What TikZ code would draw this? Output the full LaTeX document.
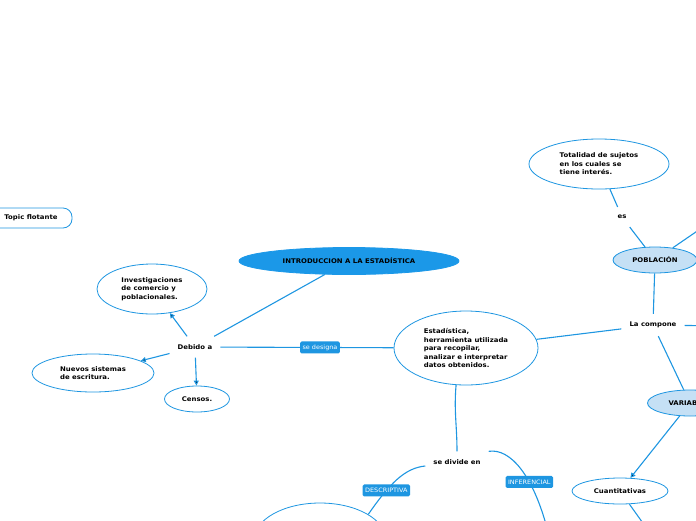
\documentclass[tikz,border=0pt]{standalone}
\usepackage{fontspec}
\setmainfont{DejaVu Sans}[FakeStretch=1.08]
\usetikzlibrary{arrows.meta, shapes.geometric, positioning}
\definecolor{mapblue}{RGB}{30,150,225}
\definecolor{mapdark}{RGB}{27,152,232}
\definecolor{maplight}{RGB}{197,224,245}

\begin{document}
\begin{tikzpicture}[x=1pt, y=-1pt,
    every node/.style={font=\fontsize{6.4}{8.5}\selectfont\bfseries, text=black},
    topic/.style={ellipse, draw=mapblue, line width=0.8pt, fill=white, inner sep=0pt, align=left},
    floatbox/.style={rectangle, rounded corners=9pt, draw=mapblue, line width=0.8pt, fill=white},
    word/.style={inner sep=8pt},
    tag/.style={rectangle, rounded corners=1.5pt, fill=mapblue, text=white, font=\fontsize{6}{7}\selectfont, inner sep=2.5pt, minimum height=12pt},
    link/.style={draw=mapblue, line width=1.1pt},
    arr/.style={-{Triangle[length=5pt, width=5pt]}}]
    \useasboundingbox (0,0) rectangle (696,520);
    \clip (0,0) rectangle (696,520);
    %
    \node [floatbox, minimum width=82pt, minimum height=20pt] (flot) at (31,218) {Topic flotante};
    \node [topic, fill=mapdark, draw=mapdark, minimum width=220pt, minimum height=27pt] (intro) at (349,261) {INTRODUCCION A LA ESTADÍSTICA};
    \node [word] (debido) at (195,347) {Debido a};
    \node [topic, minimum width=110pt, minimum height=50pt] (invest) at (152,289) {Investigaciones\\de comercio y\\poblacionales.};
    \node [topic, minimum width=122pt, minimum height=38pt] (nuevos) at (93,373) {Nuevos sistemas\\de escritura.};
    \node [topic, minimum width=65pt, minimum height=26pt] (censos) at (197,399) {Censos.};
    \node [topic, minimum width=144pt, minimum height=74pt] (estad) at (466,348) {Estadística,\\herramienta utilizada\\para recopilar,\\analizar e interpretar\\datos obtenidos.};
    \node [word] (compone) at (653,325) {La compone};
    \node [topic, fill=maplight, minimum width=84pt, minimum height=26pt] (pobla) at (655,260) {POBLACIÓN};
    \node [word] (es) at (622,217) {es};
    \node [topic, minimum width=140pt, minimum height=50pt] (total) at (599,164) {Totalidad de sujetos\\en los cuales se\\tiene interés.};
    \node [topic, fill=maplight, minimum width=85pt, minimum height=26pt] (vari) at (690,403) {VARIABLES};
    \node [topic, minimum width=96pt, minimum height=26pt] (cuanti) at (620,491) {Cuantitativas};
    \node [word] (divide) at (457,462) {se divide en};
    \node [topic, minimum width=132pt, minimum height=74pt] (descr) at (320,540) {};
    %
    \coordinate (poblaout) at (725,212);
    \coordinate (componeout) at (725,326);
    \coordinate (cuantiout) at (655,540);
    \coordinate (inferout) at (550,540);
    %
    \path [link] (intro) edge (debido);
    \path [link] (debido) edge[arr] (invest) edge[arr] (nuevos) edge[arr] (censos);
    \path [link] (debido) edge node[tag, pos=0.575] {se designa} (estad);
    \path [link] (estad) edge (compone);
    \path [link] (pobla) edge (compone) edge (poblaout);
    \path [link] (es) edge (pobla) edge (total);
    \path [link] (compone) edge (componeout) edge (vari);
    \path [link] (vari) edge[arr] (cuanti);
    \path [link] (cuanti) edge (cuantiout);
    \path [link] (estad.255) edge[out=-95, in=90] (divide.north);
    \draw [link] ([yshift=-4pt]divide.west) .. controls (405,468) and (390,483) .. node[tag, pos=0.7] {DESCRIPTIVA} (descr.28);
    \draw [link] (divide.north east) .. controls (510,448) and (535,475) .. node[tag, pos=0.62] {INFERENCIAL} (inferout);
\end{tikzpicture}
\end{document}
